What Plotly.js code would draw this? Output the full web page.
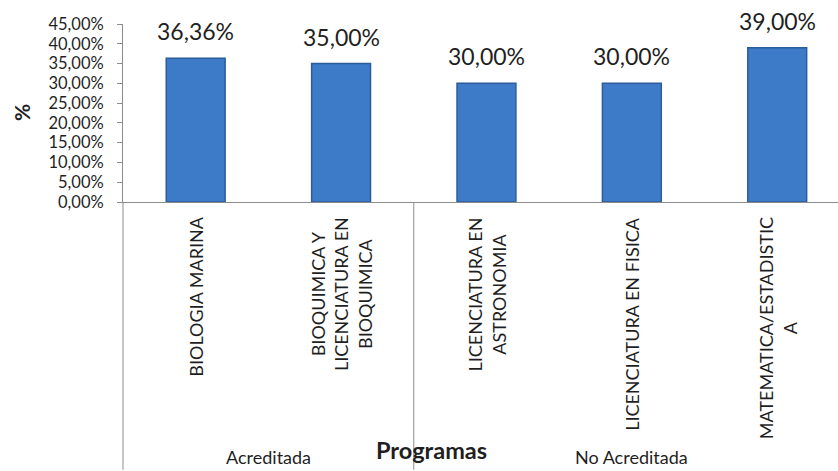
<!DOCTYPE html>
<html>
<head>
<meta charset="utf-8">
<script src="https://cdn.plot.ly/plotly-3.0.1.min.js"></script>
<style>
html,body{margin:0;padding:0;background:#fff;}
#chart{width:838px;height:471px;}
</style>
</head>
<body>
<div id="chart"></div>
<script>
// Data
const programas = ["BIOLOGIA MARINA", "BIOQUIMICA Y LICENCIATURA EN BIOQUIMICA", "LICENCIATURA EN ASTRONOMIA", "LICENCIATURA EN FISICA", "MATEMATICA/ESTADISTICA"];
const etiquetas = ["BIOLOGIA MARINA", "BIOQUIMICA Y<br>LICENCIATURA EN<br>BIOQUIMICA", "LICENCIATURA EN<br>ASTRONOMIA", "LICENCIATURA EN FISICA", "MATEMATICA/ESTADISTIC<br>A"];
const valores = [0.3636, 0.35, 0.30, 0.30, 0.39];
const valorTexto = ["36,36%", "35,00%", "30,00%", "30,00%", "39,00%"];
const grupos = ["Acreditada", "No Acreditada"];
const grupoInicio = [0, 2];
const grupoFin = [1, 4];
const yTicks = [0, 0.05, 0.10, 0.15, 0.20, 0.25, 0.30, 0.35, 0.40, 0.45];
const yTickText = ["0,00%", "5,00%", "10,00%", "15,00%", "20,00%", "25,00%", "30,00%", "35,00%", "40,00%", "45,00%"];

const FONT = "Lato, sans-serif";
const TXT = "#1f1f1f";
const xRange = [-0.5, 4.418];
const plotH = 471 - 24 - 268.5;
const bottomPaper = -(268.5) / plotH;

const annotations = [];
programas.forEach((p, i) => {
  annotations.push({
    x: p, y: valores[i], xref: 'x', yref: 'y',
    text: valorTexto[i], showarrow: false,
    yanchor: 'bottom', yshift: 11,
    font: {family: FONT, size: 23, color: TXT}
  });
  annotations.push({
    x: p, y: 0, xref: 'x', yref: 'paper',
    text: etiquetas[i], showarrow: false, textangle: -90,
    yanchor: 'top', xanchor: 'center', yshift: -13, align: 'center',
    font: {family: FONT, size: 18, color: TXT}
  });
});
grupos.forEach((g, k) => {
  annotations.push({
    x: (grupoInicio[k] + grupoFin[k]) / 2, y: bottomPaper, xref: 'x', yref: 'paper',
    text: g, showarrow: false, yanchor: 'bottom', yshift: 0,
    font: {family: FONT, size: 18, color: TXT}
  });
});
annotations.push({
  x: (431 - 122.5) / 715.5, y: bottomPaper, xref: 'paper', yref: 'paper',
  text: '<b>Programas</b>', showarrow: false, yanchor: 'bottom', yshift: 4,
  font: {family: FONT, size: 23.5, color: TXT}
});
annotations.push({
  x: 0, y: 0.5, xref: 'paper', yref: 'paper', xshift: -102, textangle: -90,
  text: '<b>%</b>', showarrow: false, xanchor: 'center', yanchor: 'middle',
  font: {family: FONT, size: 21, color: TXT}
});

const shapes = [];
const span = xRange[1] - xRange[0];
grupoInicio.forEach((s) => {
  const xp = (s - 0.5 - xRange[0]) / span;
  shapes.push({
    type: 'line', xref: 'paper', yref: 'paper',
    x0: xp, x1: xp, y0: 0, y1: bottomPaper,
    line: {color: '#8c8c8c', width: 1}
  });
});

const trace = {
  type: 'bar', x: programas, y: valores, width: 0.405,
  marker: {color: '#3d7bc8', line: {color: '#2b5d9c', width: 1.5}},
  hoverinfo: 'skip'
};

const layout = {
  width: 838, height: 471,
  margin: {l: 122.5, r: 0, t: 24, b: 268.5, pad: 0},
  paper_bgcolor: '#fff', plot_bgcolor: '#fff',
  showlegend: false,
  xaxis: {
    type: 'category', range: xRange, showticklabels: false,
    showline: true, linecolor: '#8c8c8c', linewidth: 1,
    ticks: '', showgrid: false, zeroline: false, fixedrange: true
  },
  yaxis: {
    range: [0, 0.45], tickvals: yTicks, ticktext: yTickText,
    showline: true, linecolor: '#8c8c8c', linewidth: 1,
    ticks: 'outside', ticklen: 5, tickcolor: '#8c8c8c',
    ticklabelstandoff: 10,
    showgrid: false, zeroline: false,
    tickfont: {family: FONT, size: 16.5, color: TXT}, fixedrange: true
  },
  annotations: annotations,
  shapes: shapes
};

Plotly.newPlot('chart', [trace], layout, {displayModeBar: false, staticPlot: true});
</script>
</body>
</html>
